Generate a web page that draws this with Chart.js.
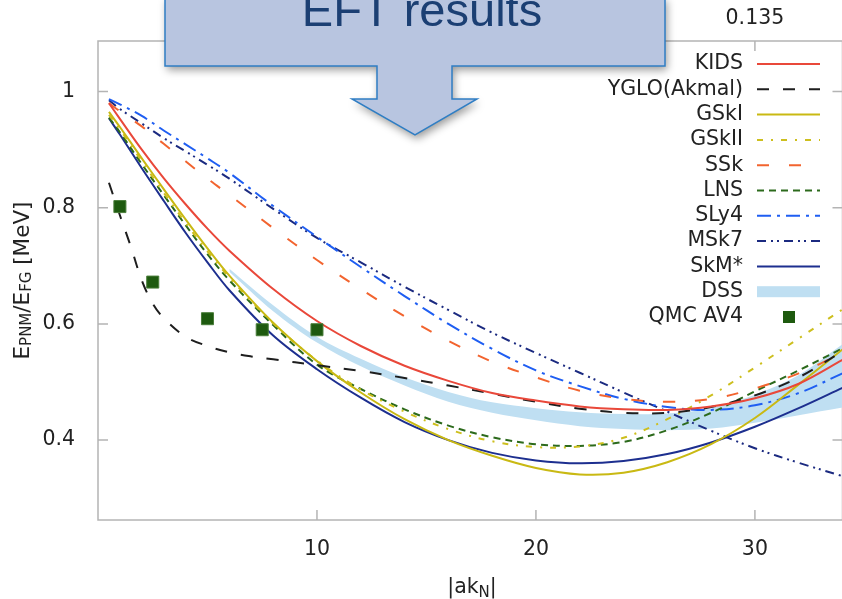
<!DOCTYPE html>
<html lang="en">
<head>
<meta charset="UTF-8" />
<title>Pure neutron matter energy ratio</title>
<style>
  html, body {
    margin: 0;
    padding: 0;
    background: #ffffff;
    overflow: hidden;
  }
  #wrap {
    position: relative;
    width: 852px;
    height: 599px;
  }
</style>
</head>
<body>
<div id="wrap"><canvas id="chart" width="852" height="599"></canvas></div>

<script src="https://cdn.jsdelivr.net/npm/chart.js"></script>
<script>
  // |ak_N| sample points shared by the Skyrme-type curves
  const xs = [0.5, 1, 2, 3, 4, 5, 6, 8, 10, 12, 14, 16, 18, 20, 22, 24, 26, 28, 30, 32, 34];

  const kids  = [0.980, 0.953, 0.900, 0.851, 0.806, 0.764, 0.726, 0.660, 0.605, 0.562, 0.528, 0.502, 0.481, 0.468, 0.458, 0.453, 0.452, 0.458, 0.472, 0.497, 0.538];
  const gski  = [0.965, 0.939, 0.885, 0.832, 0.780, 0.730, 0.683, 0.602, 0.536, 0.482, 0.436, 0.400, 0.373, 0.352, 0.341, 0.344, 0.362, 0.393, 0.438, 0.496, 0.556];
  const gskii = [0.960, 0.935, 0.880, 0.826, 0.774, 0.725, 0.680, 0.601, 0.537, 0.487, 0.449, 0.419, 0.398, 0.388, 0.389, 0.404, 0.436, 0.477, 0.525, 0.575, 0.625];
  const ssk   = [0.980, 0.966, 0.940, 0.910, 0.880, 0.850, 0.822, 0.765, 0.710, 0.660, 0.613, 0.571, 0.535, 0.508, 0.485, 0.471, 0.466, 0.471, 0.489, 0.515, 0.550];
  const lns   = [0.955, 0.930, 0.875, 0.822, 0.770, 0.720, 0.675, 0.598, 0.530, 0.488, 0.453, 0.425, 0.405, 0.393, 0.390, 0.397, 0.417, 0.447, 0.484, 0.520, 0.558];
  const sly4  = [0.987, 0.978, 0.958, 0.933, 0.909, 0.885, 0.860, 0.803, 0.750, 0.698, 0.648, 0.600, 0.557, 0.520, 0.493, 0.471, 0.457, 0.452, 0.460, 0.481, 0.515];
  const msk7  = [0.985, 0.970, 0.945, 0.920, 0.897, 0.874, 0.850, 0.798, 0.748, 0.706, 0.664, 0.624, 0.585, 0.550, 0.516, 0.482, 0.449, 0.416, 0.386, 0.361, 0.338];
  const skm   = [0.954, 0.926, 0.868, 0.812, 0.757, 0.706, 0.658, 0.580, 0.522, 0.473, 0.431, 0.400, 0.378, 0.365, 0.360, 0.364, 0.376, 0.396, 0.423, 0.455, 0.490];

  // YGLO (Akmal) is sampled more densely at small |ak_N|
  const xsYglo = [0.5, 1, 1.5, 2, 2.5, 3, 4, 5, 6, 7, 8, 10, 12, 14, 16, 18, 20, 22, 24, 26, 28, 30, 32, 34];
  const yglo   = [0.843, 0.787, 0.733, 0.675, 0.635, 0.610, 0.578, 0.562, 0.551, 0.544, 0.539, 0.529, 0.519, 0.507, 0.494, 0.480, 0.466, 0.454, 0.447, 0.447, 0.457, 0.477, 0.508, 0.553];

  // DSS band edges
  const xsDss    = [6, 8, 10, 12, 14, 16, 18, 20, 22, 24, 26, 28, 30, 32, 34];
  const dssUpper = [0.695, 0.632, 0.578, 0.540, 0.508, 0.483, 0.465, 0.455, 0.448, 0.445, 0.446, 0.455, 0.478, 0.512, 0.565];
  const dssLower = [0.690, 0.622, 0.568, 0.527, 0.494, 0.466, 0.447, 0.434, 0.424, 0.419, 0.417, 0.420, 0.430, 0.443, 0.456];

  // QMC AV4 points
  const xsQmc = [1, 2.5, 5, 7.5, 10];
  const qmc   = [0.802, 0.672, 0.609, 0.590, 0.590];

  // axis ticks
  const xTicks = [10, 20, 30];
  const yTicks = [0.4, 0.6, 0.8, 1];
  const yTickLabels = ['0.4', '0.6', '0.8', '1'];
  const topTicks = [30];
  const topTickLabels = ['0.135'];

  const FONT = '"DejaVu Sans", Verdana, sans-serif';
  const TEXT = '#222222';
  const AXIS = '#b4b4b4';

  const pts = (xv, yv) => xv.map((x, i) => ({ x: x, y: yv[i] }));

  function curve(label, xv, yv, color, dash) {
    return {
      label: label,
      data: pts(xv, yv),
      borderColor: color,
      borderWidth: 2,
      borderDash: dash || [],
      pointRadius: 0,
      tension: 0.35,
      fill: false,
      key: 'line'
    };
  }

  const datasets = [
    curve('KIDS', xs, kids, '#e9483a'),
    curve('YGLO(Akmal)', xsYglo, yglo, '#1e1e1e', [12, 14]),
    curve('GSkI', xs, gski, '#c9b913'),
    curve('GSkII', xs, gskii, '#cdbf1e', [6, 8, 2, 8]),
    curve('SSk', xs, ssk, '#f2642f', [12, 20]),
    curve('LNS', xs, lns, '#2c6a1c', [7, 5]),
    curve('SLy4', xs, sly4, '#1f5ef2', [14, 6, 3, 6]),
    curve('MSk7', xs, msk7, '#1b2a80', [9, 5, 2, 4, 2, 5]),
    curve('SkM*', xs, skm, '#1d2f8f'),
    {
      label: 'DSS',
      data: pts(xsDss, dssUpper),
      borderWidth: 0,
      borderColor: 'rgba(0,0,0,0)',
      backgroundColor: '#bfdff2',
      pointRadius: 0,
      tension: 0.35,
      fill: '+1',
      order: 10,
      key: 'band'
    },
    {
      label: 'DSS lower',
      data: pts(xsDss, dssLower),
      borderWidth: 0,
      borderColor: 'rgba(0,0,0,0)',
      pointRadius: 0,
      tension: 0.35,
      fill: false,
      order: 10
    },
    {
      label: 'QMC AV4',
      data: pts(xsQmc, qmc),
      showLine: false,
      pointStyle: 'rect',
      pointRadius: 8.5,
      backgroundColor: '#1e5a0f',
      borderColor: '#4a7e3a',
      borderWidth: 1,
      order: -1,
      key: 'point'
    }
  ];

  // frame box and inward tick marks on all four sides
  const framePlugin = {
    id: 'frame',
    beforeDatasetsDraw(chart) {
      const { ctx, chartArea: a, scales } = chart;
      ctx.save();
      ctx.strokeStyle = AXIS;
      ctx.lineWidth = 1.5;
      ctx.strokeRect(a.left, a.top, a.right - a.left, a.bottom - a.top);
      ctx.beginPath();
      xTicks.forEach(v => {
        const px = scales.x.getPixelForValue(v);
        ctx.moveTo(px, a.bottom); ctx.lineTo(px, a.bottom - 10);
      });
      topTicks.forEach(v => {
        const px = scales.x.getPixelForValue(v);
        ctx.moveTo(px, a.top); ctx.lineTo(px, a.top + 10);
      });
      yTicks.forEach(v => {
        const py = scales.y.getPixelForValue(v);
        ctx.moveTo(a.left, py); ctx.lineTo(a.left + 10, py);
        ctx.moveTo(a.right, py); ctx.lineTo(a.right - 10, py);
      });
      ctx.stroke();
      ctx.restore();
    }
  };

  // text with subscripts, centred on x = 0
  function richText(ctx, parts, size, subSize, drop) {
    let w = 0;
    parts.forEach(p => {
      ctx.font = (p.sub ? subSize : size) + 'px ' + FONT;
      p.w = ctx.measureText(p.t).width;
      w += p.w;
    });
    let x = -w / 2;
    parts.forEach(p => {
      ctx.font = (p.sub ? subSize : size) + 'px ' + FONT;
      ctx.fillText(p.t, x, p.sub ? drop : 0);
      x += p.w;
    });
  }

  const titlePlugin = {
    id: 'titles',
    afterDraw(chart) {
      const { ctx, chartArea: a } = chart;
      ctx.save();
      ctx.fillStyle = TEXT;
      ctx.textAlign = 'left';
      ctx.textBaseline = 'alphabetic';

      ctx.save();
      ctx.translate(29, (a.top + a.bottom) / 2);
      ctx.rotate(-Math.PI / 2);
      richText(ctx, [
        { t: 'E' }, { t: 'PNM', sub: true }, { t: '/E' }, { t: 'FG', sub: true }, { t: ' [MeV]' }
      ], 21.5, 15, 1.5);
      ctx.restore();

      ctx.save();
      ctx.translate(472, 593);
      richText(ctx, [{ t: '|ak' }, { t: 'N', sub: true }, { t: '|' }], 20.5, 15, 4);
      ctx.restore();
      ctx.restore();
    }
  };

  // key in the upper right, built from the dataset styles
  const keyPlugin = {
    id: 'key',
    afterDatasetsDraw(chart) {
      const ctx = chart.ctx;
      ctx.save();
      ctx.font = '20.5px ' + FONT;
      ctx.textAlign = 'right';
      ctx.textBaseline = 'middle';
      let y = 64;
      chart.data.datasets.forEach(ds => {
        if (!ds.key) return;
        ctx.fillStyle = TEXT;
        ctx.fillText(ds.label, 743, y);
        if (ds.key === 'line') {
          ctx.strokeStyle = ds.borderColor;
          ctx.lineWidth = ds.borderWidth;
          ctx.setLineDash(ds.borderDash);
          ctx.beginPath();
          ctx.moveTo(757, y);
          ctx.lineTo(820, y);
          ctx.stroke();
          ctx.setLineDash([]);
        } else if (ds.key === 'band') {
          ctx.fillStyle = ds.backgroundColor;
          ctx.fillRect(757, y - 5.5, 63, 11);
        } else {
          ctx.fillStyle = ds.backgroundColor;
          ctx.fillRect(783, y - 6, 12, 12);
        }
        y += 25.3;
      });
      ctx.restore();
    }
  };

  // "EFT results" arrow callout over the top of the plot
  const calloutPlugin = {
    id: 'callout',
    afterDraw(chart) {
      const ctx = chart.ctx;
      ctx.save();
      ctx.beginPath();
      ctx.moveTo(165, -3);
      ctx.lineTo(665, -3);
      ctx.lineTo(665, 66);
      ctx.lineTo(452, 66);
      ctx.lineTo(452, 99);
      ctx.lineTo(477, 99);
      ctx.lineTo(415, 135);
      ctx.lineTo(352, 99);
      ctx.lineTo(377, 99);
      ctx.lineTo(377, 66);
      ctx.lineTo(165, 66);
      ctx.closePath();
      ctx.shadowColor = 'rgba(0,0,0,0.4)';
      ctx.shadowBlur = 8;
      ctx.shadowOffsetX = 2;
      ctx.shadowOffsetY = 4;
      ctx.fillStyle = '#b8c5e0';
      ctx.fill();
      ctx.shadowColor = 'rgba(0,0,0,0)';
      ctx.strokeStyle = '#2f7ec4';
      ctx.lineWidth = 1.5;
      ctx.stroke();

      ctx.fillStyle = '#1b3f73';
      ctx.font = '47px "Liberation Sans", Arial, sans-serif';
      ctx.textAlign = 'center';
      ctx.textBaseline = 'alphabetic';
      ctx.fillText('EFT results', 422, 26);
      ctx.restore();
    }
  };

  const tickFont = { family: FONT, size: 20.5 };

  new Chart(document.getElementById('chart'), {
    type: 'line',
    data: { datasets: datasets },
    plugins: [framePlugin, keyPlugin, titlePlugin, calloutPlugin],
    options: {
      responsive: false,
      animation: false,
      layout: { padding: { left: 0, right: 6, top: 0, bottom: 0 } },
      plugins: {
        legend: { display: false },
        tooltip: { enabled: false }
      },
      scales: {
        x: {
          type: 'linear',
          position: 'bottom',
          min: 0,
          max: 34,
          grid: { display: false },
          border: { display: false },
          afterBuildTicks: s => { s.ticks = xTicks.map(v => ({ value: v })); },
          ticks: { font: tickFont, color: TEXT, padding: 9, maxRotation: 0 },
          afterFit: s => { s.height = 79; }
        },
        xTop: {
          type: 'linear',
          position: 'top',
          min: 0,
          max: 34,
          grid: { display: false },
          border: { display: false },
          afterBuildTicks: s => { s.ticks = topTicks.map(v => ({ value: v })); },
          ticks: {
            font: tickFont,
            color: TEXT,
            padding: 2,
            maxRotation: 0,
            callback: v => topTickLabels[topTicks.indexOf(v)]
          },
          afterFit: s => { s.height = 41; }
        },
        y: {
          type: 'linear',
          min: 0.2625,
          max: 1.087,
          grid: { display: false },
          border: { display: false },
          afterBuildTicks: s => { s.ticks = yTicks.map(v => ({ value: v })); },
          ticks: {
            font: tickFont,
            color: TEXT,
            padding: 15,
            callback: v => yTickLabels[yTicks.indexOf(v)]
          },
          afterFit: s => { s.width = 98; }
        }
      }
    }
  });
</script>
</body>
</html>
